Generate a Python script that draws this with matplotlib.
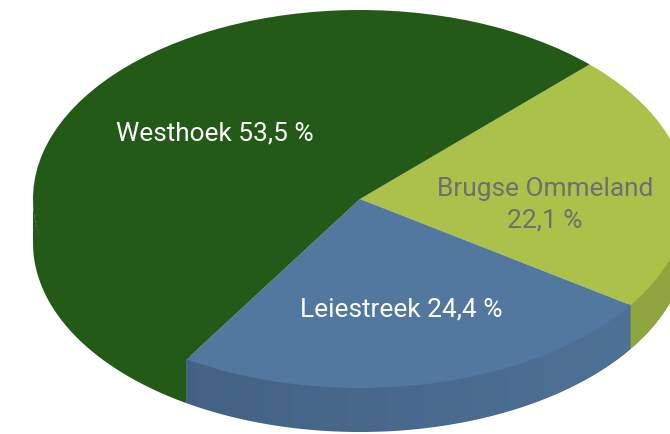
import numpy as np
import matplotlib
matplotlib.use("Agg")
import matplotlib.pyplot as plt
from matplotlib.colors import to_rgb

regions = ["Brugse Ommeland", "Leiestreek", "Westhoek"]
shares = [22.1, 24.4, 53.5]
shares_text = ["22,1 %", "24,4 %", "53,5 %"]
top_colors = ["#abc14a", "#52789f", "#245a18"]
side_left = ["#8a9f3c", "#426184", "#245a18"]
side_right = ["#8fa53f", "#4e7196", "#245a18"]
text_colors = ["#6f6f6f", "#ffffff", "#ffffff"]

W, H = 670, 434
CX, CY, RX, RY, DEPTH = 360, 199, 327, 189, 44
START = 45.4

fig = plt.figure(figsize=(W / 100, H / 100), dpi=100, facecolor="white")
ax = fig.add_axes([0, 0, 1, 1])


def px(x, y):
    return (x - CX) / RX, (CY - y) / RY


ax.pie(shares, colors=top_colors, startangle=START, counterclock=False,
       wedgeprops=dict(linewidth=0, zorder=3), normalize=True)

# extruded wall under the pie: one solid shape per wedge, shaded strips on top.
# Only the front half (-180..0 degrees) is visible; its upper edge is tucked
# under the top face so no seam shows.
d = DEPTH / RY
inset = 0.8 / RY
tuck = 0.97
edges = START - np.cumsum([0] + shares) * 3.6
for i in range(len(shares)):
    hi, lo = min(edges[i], 0.0), max(edges[i + 1], -180.0)
    thetas = np.append(np.arange(hi, lo, -1.0), lo)
    rad = np.radians(thetas)
    xs, ys = np.cos(rad), np.sin(rad)
    c0, c1 = np.array(to_rgb(side_left[i])), np.array(to_rgb(side_right[i]))
    tt = np.clip((xs + 0.55) / 1.4, 0, 1)
    base = c0 + (c1 - c0) * tt.mean()
    ax.fill(np.r_[xs, xs[::-1]], np.r_[ys * tuck, ys[::-1] - d],
            color=base, linewidth=0, zorder=1)
    if side_left[i] == side_right[i]:
        continue
    for k in range(len(xs) - 1):
        j = min(k + 3, len(xs) - 1)
        col = c0 + (c1 - c0) * tt[k]
        ax.fill([xs[k], xs[j], xs[j], xs[k]],
                [ys[k] * tuck, ys[j] * tuck, ys[j] - d + inset, ys[k] - d + inset],
                color=col, linewidth=0, zorder=2)

ax.set_aspect("auto")
ax.set_xlim(px(0, 0)[0], px(W, 0)[0])
ax.set_ylim(px(0, H)[1], px(0, 0)[1])
ax.axis("off")

font = dict(family="Roboto", fontsize=18.9, ha="center", va="center",
            linespacing=1.4, zorder=5)
ax.text(*px(545, 205), f"{regions[0]}\n{shares_text[0]}", color=text_colors[0], **font)
ax.text(*px(401, 309), f"{regions[1]} {shares_text[1]}", color=text_colors[1], **font)
ax.text(*px(215, 133), f"{regions[2]} {shares_text[2]}", color=text_colors[2], **font)

fig.savefig("out.png", dpi=100, facecolor="white")
